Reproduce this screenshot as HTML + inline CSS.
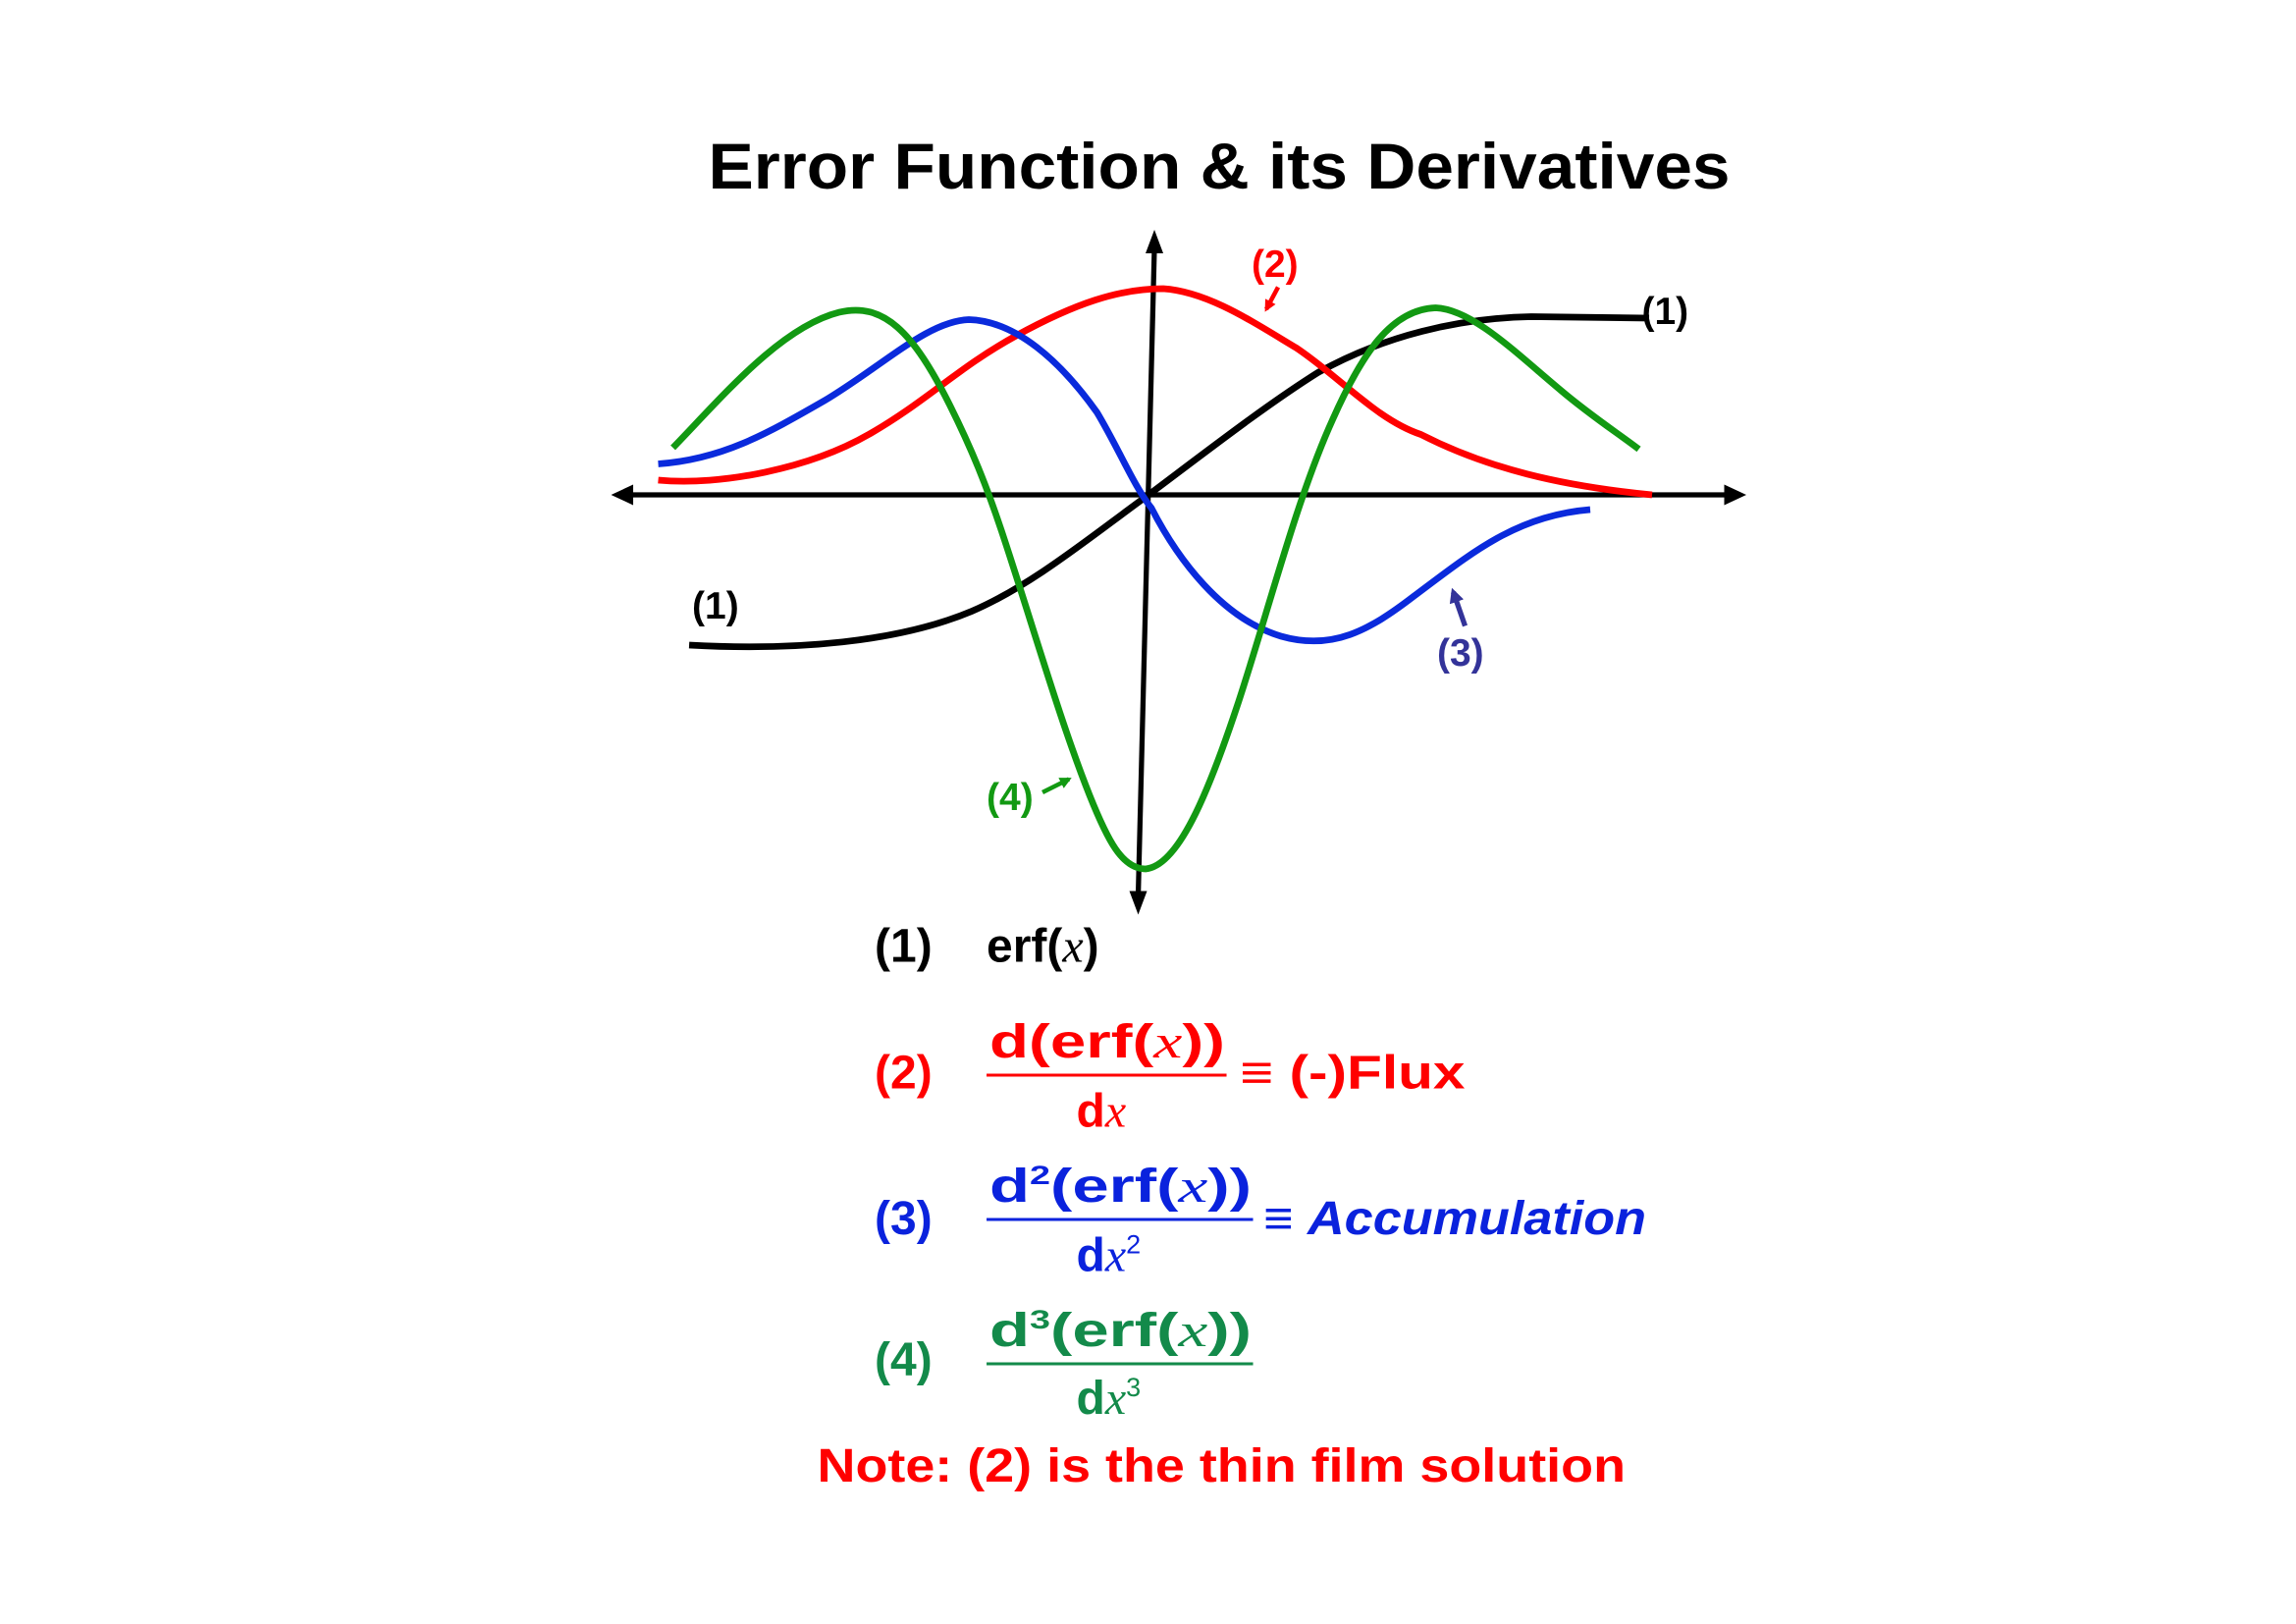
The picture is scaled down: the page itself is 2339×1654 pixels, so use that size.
<!DOCTYPE html>
<html><head><meta charset="utf-8"><style>
html,body{margin:0;padding:0;background:#fff}
svg{display:block}
text{font-family:"Liberation Sans",sans-serif;font-weight:bold}
.i{font-family:"Liberation Serif",serif;font-style:italic;font-weight:normal}
</style></head><body>
<svg width="2339" height="1654" viewBox="0 0 1559.3 1102.7" xmlns="http://www.w3.org/2000/svg">
<defs>
<marker id="ak" markerWidth="8" markerHeight="8" refX="6" refY="4" orient="auto" markerUnits="userSpaceOnUse"><path d="M0,0 L8,4 L0,8 z" fill="#000"/></marker>
<marker id="ar" markerWidth="8" markerHeight="8" refX="6" refY="4" orient="auto" markerUnits="userSpaceOnUse"><path d="M0,0 L8,4 L0,8 z" fill="#f00"/></marker>
<marker id="ab" markerWidth="10" markerHeight="10" refX="7" refY="5" orient="auto" markerUnits="userSpaceOnUse"><path d="M0,0 L10,5 L0,10 z" fill="#333399"/></marker>
<marker id="ag" markerWidth="8" markerHeight="8" refX="6" refY="4" orient="auto" markerUnits="userSpaceOnUse"><path d="M0,0 L8,4 L0,8 z" fill="#129912"/></marker>
</defs>
<text x="481" y="128" font-size="44" textLength="694" lengthAdjust="spacingAndGlyphs">Error Function &amp; its Derivatives</text>
<!-- axes -->
<line x1="428" y1="336" x2="1172" y2="336" stroke="#000" stroke-width="3.5"/>
<path d="M415,336 L430,329 L430,343 z M1186,336 L1171,329 L1171,343 z" fill="#000"/>
<line x1="784" y1="168" x2="773" y2="608" stroke="#000" stroke-width="3.5"/>
<path d="M784,156 L778,172 L790,172 z M773,621 L767,605 L779,605 z" fill="#000"/>
<g fill="none" stroke-width="4.5" stroke-linecap="butt">
<path stroke="#000" d="M468,438 C540,442 610,436 660,415 C700,398 740,365 780,336 C820,306 860,275 895,253 C940,228 990,216 1040,215 L1120,216"/>
<path stroke="#f00" d="M447,326 C490,330 550,318 590,295 C630,272 650,250 690,228 C730,206 760,196 790,196 C820,198 850,218 880,236 C910,256 935,285 965,295 C1010,318 1060,330 1122,336"/>
<path stroke="#0a2adc" d="M447,315 C490,312 520,295 560,272 C600,248 630,218 658,217 C690,218 720,245 745,280 C760,305 770,330 782,345 C800,380 830,420 870,432 C905,442 930,428 960,405 C1000,375 1030,350 1080,346"/>
<path stroke="#129912" d="M457,304 C490,270 530,222 570,212 C600,205 620,225 645,275 C660,305 670,330 680,360 C700,420 720,490 740,540 C752,570 762,590 778,590 C800,588 820,540 840,480 C860,420 880,340 905,285 C925,240 945,210 975,209 C1000,210 1030,240 1060,265 C1080,282 1100,295 1113,305"/>
</g>
<!-- labels -->
<text x="1115" y="220" font-size="26" fill="#000" font-weight="normal" style="font-weight:bold">(1)</text>
<text x="470" y="420" font-size="26" fill="#000">(1)</text>
<text x="850" y="188" font-size="26" fill="#f00">(2)</text>
<line x1="868" y1="195" x2="860" y2="210" stroke="#f00" stroke-width="3" marker-end="url(#ar)"/>
<text x="976" y="452" font-size="26" fill="#333399">(3)</text>
<line x1="995" y1="425" x2="987" y2="402" stroke="#333399" stroke-width="3.5" marker-end="url(#ab)"/>
<text x="670" y="550" font-size="26" fill="#129912">(4)</text>
<line x1="708" y1="538" x2="726" y2="529" stroke="#129912" stroke-width="3" marker-end="url(#ag)"/>
<!-- equations -->
<g font-size="32">
<text x="594" y="653" fill="#000">(1)</text>
<text x="670" y="653" fill="#000">erf(<tspan class="i">x</tspan>)</text>

<text x="594" y="739" fill="#f00">(2)</text>
<text x="672" y="718" fill="#f00" textLength="160" lengthAdjust="spacingAndGlyphs">d(erf(<tspan class="i">x</tspan>))</text>
<line x1="670" y1="730" x2="833" y2="730" stroke="#f00" stroke-width="2"/>
<text x="731" y="765" fill="#f00">d<tspan class="i">x</tspan></text>
<text x="842" y="739" fill="#f00" textLength="153" lengthAdjust="spacingAndGlyphs">≡ (-)Flux</text>

<text x="594" y="838" fill="#0a22dd">(3)</text>
<text x="672" y="816" fill="#0a22dd" textLength="178" lengthAdjust="spacingAndGlyphs">d<tspan font-size="18" dy="-12">2</tspan><tspan dy="12">(erf(</tspan><tspan class="i">x</tspan>))</text>
<line x1="670" y1="828" x2="851" y2="828" stroke="#0a22dd" stroke-width="2"/>
<text x="731" y="863" fill="#0a22dd">d<tspan class="i">x</tspan><tspan font-size="18" font-weight="normal" dy="-12">2</tspan></text>
<text x="858" y="838" fill="#0a22dd" textLength="260" lengthAdjust="spacingAndGlyphs">≡ <tspan font-style="italic">Accumulation</tspan></text>

<text x="594" y="934" fill="#138a4a">(4)</text>
<text x="672" y="914" fill="#138a4a" textLength="178" lengthAdjust="spacingAndGlyphs">d<tspan font-size="18" dy="-12">3</tspan><tspan dy="12">(erf(</tspan><tspan class="i">x</tspan>))</text>
<line x1="670" y1="926" x2="851" y2="926" stroke="#138a4a" stroke-width="2"/>
<text x="731" y="960" fill="#138a4a">d<tspan class="i">x</tspan><tspan font-size="18" font-weight="normal" dy="-12">3</tspan></text>

<text x="555" y="1006" fill="#f00" textLength="549" lengthAdjust="spacingAndGlyphs">Note: (2) is the thin film solution</text>
</g>
</svg>
</body></html>
